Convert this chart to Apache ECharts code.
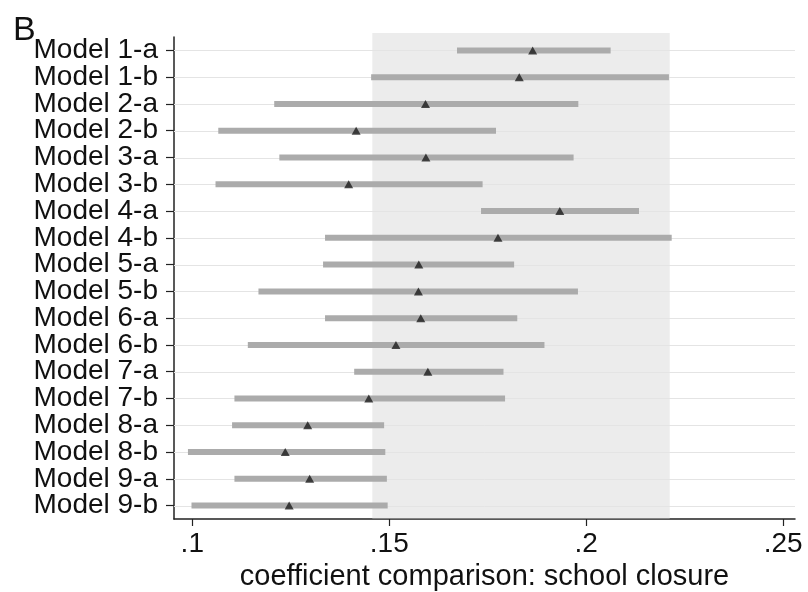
<!DOCTYPE html>
<html>
<head>
<meta charset="utf-8">
<script src="https://cdn.jsdelivr.net/npm/echarts@6/dist/echarts.min.js"></script>
<style>
  html, body { margin: 0; padding: 0; background: #fff; }
  #chart { width: 808px; height: 592px; }
</style>
</head>
<body>
<div id="chart"></div>
<script>
// Model specifications, top to bottom
const models = [
  'Model 1-a', 'Model 1-b', 'Model 2-a', 'Model 2-b', 'Model 3-a', 'Model 3-b',
  'Model 4-a', 'Model 4-b', 'Model 5-a', 'Model 5-b', 'Model 6-a', 'Model 6-b',
  'Model 7-a', 'Model 7-b', 'Model 8-a', 'Model 8-b', 'Model 9-a', 'Model 9-b'
];
// Point estimates of the school-closure coefficient
const estimates = [
  0.1864, 0.1830, 0.1592, 0.1416, 0.1593, 0.1397,
  0.1933, 0.1776, 0.1575, 0.1574, 0.1580, 0.1517,
  0.1598, 0.1448, 0.1293, 0.1236, 0.1298, 0.1246
];
// Confidence interval bounds
const lower = [
  0.1672, 0.1454, 0.1208, 0.1066, 0.1221, 0.1059,
  0.1733, 0.1337, 0.1332, 0.1168, 0.1337, 0.1141,
  0.1411, 0.1107, 0.1101, 0.0989, 0.1107, 0.0998
];
const upper = [
  0.2062, 0.2210, 0.1980, 0.1771, 0.1968, 0.1737,
  0.2134, 0.2217, 0.1817, 0.1979, 0.1825, 0.1894,
  0.1790, 0.1794, 0.1487, 0.1490, 0.1494, 0.1496
];
// Reference range shaded behind the intervals
const refBand = [0.1457, 0.2212];
// x-axis ticks
const xTicks = [0.1, 0.15, 0.2, 0.25];

const FONT = 'Liberation Sans, Arial, Helvetica, sans-serif';
const X_MIN = 0.09536, X_MAX = 0.2530;

const chart = echarts.init(document.getElementById('chart'), null, { renderer: 'canvas' });

chart.setOption({
  animation: false,
  backgroundColor: '#ffffff',
  title: {
    text: 'B',
    left: 8,
    top: 9,
    textStyle: { fontFamily: FONT, fontSize: 34, fontWeight: 'normal', color: '#111' }
  },
  // grid 0: data + shaded band (band reaches a little above the first row)
  // grid 1: row labels, ticks and guide lines
  grid: [
    { left: 174, right: 13, top: 33, bottom: 73, outerBoundsMode: 'none', containLabel: false },
    { left: 174, right: 13, top: 37, bottom: 73, outerBoundsMode: 'none', containLabel: false }
  ],
  xAxis: [
    {
      gridIndex: 0,
      type: 'value',
      min: X_MIN,
      max: X_MAX,
      name: 'coefficient comparison: school closure',
      nameLocation: 'middle',
      nameGap: 37,
      nameTextStyle: { fontFamily: FONT, fontSize: 29, color: '#111' },
      axisLine: { show: true, onZero: false, lineStyle: { color: '#222', width: 1.5 } },
      axisTick: { show: true, length: 7, customValues: xTicks, lineStyle: { color: '#222', width: 1.2 } },
      axisLabel: {
        customValues: xTicks,
        showMinLabel: true,
        showMaxLabel: true,
        margin: 11,
        fontFamily: FONT,
        fontSize: 28,
        color: '#111',
        formatter: v => String(+v.toFixed(2)).replace(/^0/, '')
      },
      splitLine: { show: false }
    },
    {
      gridIndex: 1,
      type: 'value',
      min: X_MIN,
      max: X_MAX,
      show: false
    }
  ],
  yAxis: [
    {
      gridIndex: 0,
      type: 'value',
      inverse: true,
      min: -0.65,
      max: 17.5,
      axisLine: { show: false },
      axisTick: { show: false },
      axisLabel: { show: false },
      splitLine: { show: false }
    },
    {
      gridIndex: 1,
      type: 'category',
      inverse: true,
      data: models,
      boundaryGap: true,
      axisLine: { show: true, onZero: false, lineStyle: { color: '#222', width: 1.5 } },
      axisTick: { show: true, alignWithLabel: true, length: 8, interval: 0, lineStyle: { color: '#222', width: 1.2 } },
      axisLabel: {
        interval: 0,
        margin: 16,
        fontFamily: FONT,
        fontSize: 28,
        color: '#111'
      },
      splitLine: { show: false }
    }
  ],
  series: [
    {
      // faint horizontal guide line for each model row
      type: 'custom',
      name: 'guides',
      xAxisIndex: 1,
      yAxisIndex: 1,
      data: models.map((m, i) => [X_MIN, X_MAX, m]),
      renderItem: function (params, api) {
        const a = api.coord([api.value(0), api.value(2)]);
        const b = api.coord([api.value(1), api.value(2)]);
        return {
          type: 'line',
          shape: { x1: a[0], y1: Math.round(a[1]) + 0.5, x2: b[0], y2: Math.round(a[1]) + 0.5 },
          style: { stroke: '#e4e4e4', lineWidth: 1 }
        };
      },
      encode: { x: [0, 1], y: 2 },
      silent: true,
      z: 1
    },
    {
      // confidence intervals as horizontal bars
      type: 'custom',
      name: 'interval',
      xAxisIndex: 0,
      yAxisIndex: 0,
      data: models.map((m, i) => [lower[i], upper[i], i]),
      renderItem: function (params, api) {
        const a = api.coord([api.value(0), api.value(2)]);
        const b = api.coord([api.value(1), api.value(2)]);
        const h = 6;
        return {
          type: 'rect',
          shape: { x: a[0], y: a[1] - h / 2, width: b[0] - a[0], height: h },
          style: { fill: '#ababab' }
        };
      },
      encode: { x: [0, 1], y: 2 },
      markArea: {
        silent: true,
        itemStyle: { color: 'rgba(205,205,205,0.38)' },
        data: [[{ xAxis: refBand[0] }, { xAxis: refBand[1] }]]
      },
      z: 2
    },
    {
      // point estimates
      type: 'scatter',
      name: 'estimate',
      xAxisIndex: 0,
      yAxisIndex: 0,
      data: estimates.map((v, i) => [v, i]),
      symbol: 'triangle',
      symbolSize: [9, 8],
      itemStyle: { color: '#1c1c1c' },
      z: 3
    }
  ]
});
</script>
</body>
</html>
